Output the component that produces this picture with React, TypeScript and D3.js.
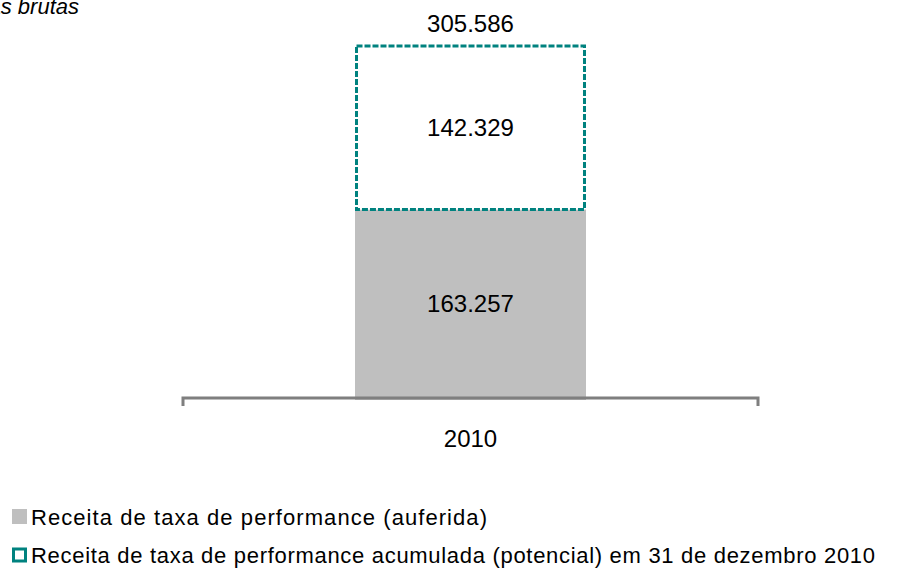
import React, { useEffect, useRef } from "react";
import * as d3 from "d3";

// chart values (R$ mil)
const categories = ["2010"];
const earned = [163.257];
const accrued = [142.329];
const totals = [305.586];
const legendLabels = [
  "Receita de taxa de performance (auferida)",
  "Receita de taxa de performance acumulada (potencial) em 31 de dezembro 2010",
];
const titleText = "Receitas brutas";

const fmt = (v: number) => v.toFixed(3);

export default function App() {
  const ref = useRef<SVGSVGElement>(null);

  useEffect(() => {
    const svg = d3.select(ref.current);
    svg.selectAll("*").remove();
    const font = "Liberation Sans, Arial, sans-serif";

    const x = d3.scaleBand().domain(categories).range([182, 759]).paddingInner(0).paddingOuter(0.749);
    const y = d3.scaleLinear().domain([0, 305.586]).range([397, 46]);
    const bw = x.bandwidth();

    // title, cut at the left edge like the source slide
    svg.append("text")
      .attr("x", 79).attr("y", 14)
      .attr("text-anchor", "end")
      .attr("font-family", font).attr("font-size", 22).attr("font-style", "italic")
      .text(titleText);

    // earned bar
    svg.selectAll(".earned")
      .data(earned)
      .enter().append("rect")
      .attr("x", (d, i) => x(categories[i])!)
      .attr("y", (d) => y(d))
      .attr("width", bw)
      .attr("height", (d) => y(0) - y(d) + 3)
      .attr("fill", "#bfbfbf");

    // accrued bar (dashed outline)
    svg.selectAll(".accrued")
      .data(accrued)
      .enter().append("rect")
      .attr("x", (d, i) => x(categories[i])! + 1.5)
      .attr("y", (d, i) => y(earned[i] + d))
      .attr("width", bw - 3)
      .attr("height", (d, i) => y(earned[i]) - y(earned[i] + d))
      .attr("fill", "white")
      .attr("stroke", "#00827f")
      .attr("stroke-width", 3)
      .attr("stroke-dasharray", "6,2");

    // axis
    svg.append("path")
      .attr("d", `M183,406V398H758V406`)
      .attr("fill", "none")
      .attr("stroke", "#7f7f7f")
      .attr("stroke-width", 3);

    const mid = (i: number) => x(categories[i])! + bw / 2;

    categories.forEach((c, i) => {
      const labels = [
        { t: fmt(earned[i]), yy: (y(0) + y(earned[i])) / 2 },
        { t: fmt(accrued[i]), yy: (y(earned[i]) + y(totals[i])) / 2 },
        { t: fmt(totals[i]), yy: y(totals[i]) - 23 },
        { t: c, yy: 438 },
      ];
      labels.forEach((l) => {
        svg.append("text")
          .attr("x", mid(i)).attr("y", l.yy)
          .attr("text-anchor", "middle")
          .attr("dominant-baseline", "central")
          .attr("font-family", font).attr("font-size", 24)
          .attr("fill", "#000")
          .text(l.t);
      });
    });

    // legend
    const lg = svg.append("g");
    legendLabels.forEach((t, i) => {
      const yy = 517 + i * 38;
      if (i === 0) {
        lg.append("rect").attr("x", 12).attr("y", yy - 8).attr("width", 15).attr("height", 15).attr("fill", "#bfbfbf");
      } else {
        lg.append("rect").attr("x", 13.5).attr("y", yy - 6).attr("width", 12).attr("height", 12)
          .attr("fill", "white").attr("stroke", "#00827f").attr("stroke-width", 3);
      }
      lg.append("text")
        .attr("x", 31).attr("y", yy)
        .attr("dominant-baseline", "central")
        .attr("font-family", font).attr("font-size", 22)
        .attr("textLength", i === 0 ? 456 : 844)
        .attr("lengthAdjust", "spacing")
        .text(t);
    });
  }, []);

  return (
    <svg ref={ref} width={901} height={568} style={{ position: "absolute", left: 0, top: 0, background: "#fff" }} />
  );
}
